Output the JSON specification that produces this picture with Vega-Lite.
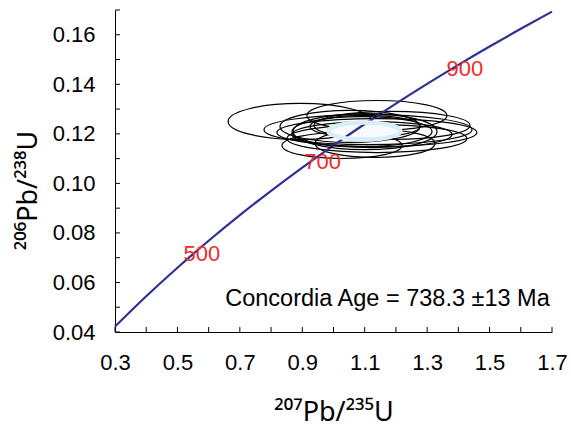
{
  "$schema": "https://vega.github.io/schema/vega-lite/v6.json",
  "width": 437,
  "height": 322,
  "autosize": "none",
  "padding": {"left": 115, "top": 10, "right": 19, "bottom": 100},
  "background": "white",
  "view": {"stroke": null},
  "config": {
    "font": "Liberation Sans",
    "axis": {
      "grid": false,
      "domainColor": "black",
      "domainWidth": 1,
      "ticks": false,
      "tickSize": 0,
      "labelFont": "Liberation Sans",
      "labelFontSize": 22,
      "labelColor": "black",
      "titleFont": "Noto Sans",
      "titleFontSize": 27,
      "titleFontWeight": "normal",
      "titleColor": "black",
      "labelFlush": false,
      "labelBound": false,
      "labelOverlap": false
    }
  },
  "datasets": {
    "curve": [
      {"x": 0.3, "y": 0.04219},
      {"x": 0.4, "y": 0.05443},
      {"x": 0.5, "y": 0.06595},
      {"x": 0.6, "y": 0.07684},
      {"x": 0.7, "y": 0.08717},
      {"x": 0.8, "y": 0.09700},
      {"x": 0.9, "y": 0.10639},
      {"x": 1.0, "y": 0.11536},
      {"x": 1.1, "y": 0.12397},
      {"x": 1.2, "y": 0.13223},
      {"x": 1.3, "y": 0.14018},
      {"x": 1.4, "y": 0.14786},
      {"x": 1.5, "y": 0.15526},
      {"x": 1.6, "y": 0.16242},
      {"x": 1.7, "y": 0.16935}
    ],
    "xticks": [
      {"x": 0.3}, {"x": 0.4}, {"x": 0.5}, {"x": 0.6}, {"x": 0.7}, {"x": 0.8}, {"x": 0.9}, {"x": 1.0},
      {"x": 1.1}, {"x": 1.2}, {"x": 1.3}, {"x": 1.4}, {"x": 1.5}, {"x": 1.6}, {"x": 1.7}
    ],
    "yticks": [
      {"y": 0.04}, {"y": 0.05}, {"y": 0.06}, {"y": 0.07}, {"y": 0.08}, {"y": 0.09}, {"y": 0.10},
      {"y": 0.11}, {"y": 0.12}, {"y": 0.13}, {"y": 0.14}, {"y": 0.15}, {"y": 0.16}, {"y": 0.17}
    ],
    "ellipses": [
      {"id": "e1", "x": 0.893, "y": 0.1250},
      {"id": "e2", "x": 1.139, "y": 0.1274},
      {"id": "e3", "x": 1.1105, "y": 0.1217},
      {"id": "e4", "x": 1.0273, "y": 0.1153},
      {"id": "e5", "x": 1.139, "y": 0.1205},
      {"id": "e6", "x": 1.139, "y": 0.1181},
      {"id": "e7", "x": 1.0529, "y": 0.1230},
      {"id": "e8", "x": 1.1009, "y": 0.1230},
      {"id": "e9", "x": 1.1233, "y": 0.1197},
      {"id": "e10", "x": 1.1329, "y": 0.1161},
      {"id": "e11", "x": 1.1874, "y": 0.1234}
    ],
    "inner": [
      {"id": "t1", "x": 1.1009, "y": 0.1209},
      {"id": "t2", "x": 1.0913, "y": 0.1209}
    ],
    "age": [
      {"x": 1.099, "y": 0.1211}
    ],
    "ages": [
      {"label": "500", "x": 0.578, "y": 0.0714},
      {"label": "700", "x": 0.965, "y": 0.1087},
      {"label": "900", "x": 1.421, "y": 0.1461}
    ],
    "note": [
      {"label": "Concordia Age = 738.3 ±13 Ma", "x": 1.173, "y": 0.0533}
    ]
  },
  "layer": [
    {
      "data": {"name": "ellipses"},
      "mark": {"type": "point", "filled": false, "stroke": "black", "strokeWidth": 1.2, "size": 4, "opacity": 1},
      "encoding": {
        "x": {"field": "x", "type": "quantitative", "scale": {"domain": [0.3, 1.7], "nice": false, "zero": false},
          "axis": {
            "values": [0.3, 0.4, 0.5, 0.6, 0.7, 0.8, 0.9, 1.0, 1.1, 1.2, 1.3, 1.4, 1.5, 1.6, 1.7],
            "labelExpr": "round(datum.value*10) % 2 == 1 ? format(datum.value, '.1f') : ''",
            "labelPadding": 20,
            "title": "²⁰⁷Pb/²³⁵U",
            "titlePadding": 26
          }},
        "y": {"field": "y", "type": "quantitative", "scale": {"domain": [0.04, 0.17], "nice": false, "zero": false},
          "axis": {
            "values": [0.04, 0.05, 0.06, 0.07, 0.08, 0.09, 0.1, 0.11, 0.12, 0.13, 0.14, 0.15, 0.16, 0.17],
            "labelExpr": "round(datum.value*100) % 2 == 0 ? format(datum.value, '.2f') : ''",
            "labelPadding": 20,
            "title": "²⁰⁶Pb/²³⁸U",
            "titlePadding": 10,
            "titleY": 180
          }},
        "shape": {"field": "id", "type": "nominal", "legend": null,
          "scale": {
            "domain": ["e1", "e2", "e3", "e4", "e5", "e6", "e7", "e8", "e9", "e10", "e11"],
            "range": [
              "M -72 0 A 72 18 0 1 0 72 0 A 72 18 0 1 0 -72 0 Z",
              "M -70 0 A 70 15 0 1 0 70 0 A 70 15 0 1 0 -70 0 Z",
              "M -104 0 A 104 15 0 1 0 104 0 A 104 15 0 1 0 -104 0 Z",
              "M -60 0 A 60 13 0 1 0 60 0 A 60 13 0 1 0 -60 0 Z",
              "M -100 0 A 100 14 0 1 0 100 0 A 100 14 0 1 0 -100 0 Z",
              "M -90 0 A 90 14 0 1 0 90 0 A 90 14 0 1 0 -90 0 Z",
              "M -70 0 A 70 16 0 1 0 70 0 A 70 16 0 1 0 -70 0 Z",
              "M -55 0 A 55 11 0 1 0 55 0 A 55 11 0 1 0 -55 0 Z",
              "M -80 0 A 80 13 0 1 0 80 0 A 80 13 0 1 0 -80 0 Z",
              "M -60 0 A 60 14 0 1 0 60 0 A 60 14 0 1 0 -60 0 Z",
              "M -78 0 A 78 14 0 1 0 78 0 A 78 14 0 1 0 -78 0 Z"
            ]
          }}
      }
    },
    {
      "data": {"name": "xticks"},
      "mark": {"type": "rule", "color": "black", "strokeWidth": 1},
      "encoding": {
        "x": {"field": "x", "type": "quantitative"},
        "y": {"datum": 0.04},
        "y2": {"datum": 0.042}
      }
    },
    {
      "data": {"name": "yticks"},
      "mark": {"type": "rule", "color": "black", "strokeWidth": 1},
      "encoding": {
        "y": {"field": "y", "type": "quantitative"},
        "x": {"datum": 0.3},
        "x2": {"datum": 0.316}
      }
    },
    {
      "data": {"name": "age"},
      "mark": {"type": "point", "filled": true, "fill": "#f7fbfe", "strokeWidth": 0, "size": 4, "opacity": 1, "shape": "M -36 0 A 36 8.5 0 1 0 36 0 A 36 8.5 0 1 0 -36 0 Z"},
      "encoding": {
        "x": {"field": "x", "type": "quantitative"},
        "y": {"field": "y", "type": "quantitative"}
      }
    },
    {
      "data": {"name": "curve"},
      "mark": {"type": "line", "color": "#2e3192", "strokeWidth": 2.2, "interpolate": "monotone"},
      "encoding": {
        "x": {"field": "x", "type": "quantitative"},
        "y": {"field": "y", "type": "quantitative"}
      }
    },
    {
      "data": {"name": "age"},
      "mark": {"type": "point", "filled": false, "stroke": "#d9edf8", "strokeWidth": 4.5, "size": 4, "opacity": 1, "shape": "M -36 0 A 36 8.5 0 1 0 36 0 A 36 8.5 0 1 0 -36 0 Z"},
      "encoding": {
        "x": {"field": "x", "type": "quantitative"},
        "y": {"field": "y", "type": "quantitative"}
      }
    },
    {
      "data": {"name": "inner"},
      "mark": {"type": "point", "filled": false, "stroke": "black", "strokeWidth": 1.2, "size": 4, "opacity": 1},
      "encoding": {
        "x": {"field": "x", "type": "quantitative"},
        "y": {"field": "y", "type": "quantitative"},
        "shape": {"field": "id", "type": "nominal", "legend": null,
          "scale": {
            "domain": ["t1", "t2"],
            "range": [
              "M -27.7 3.9 A 28 3 -8 1 0 27.7 -3.9 A 28 3 -8 1 0 -27.7 3.9 Z",
              "M -24.6 -4.3 A 25 3 10 1 0 24.6 4.3 A 25 3 10 1 0 -24.6 -4.3 Z"
            ]
          }}
      }
    },
    {
      "data": {"name": "ages"},
      "mark": {"type": "text", "color": "#ee2c2c", "fontSize": 22, "font": "Liberation Sans", "align": "center", "baseline": "middle"},
      "encoding": {
        "x": {"field": "x", "type": "quantitative"},
        "y": {"field": "y", "type": "quantitative"},
        "text": {"field": "label", "type": "nominal"}
      }
    },
    {
      "data": {"name": "note"},
      "mark": {"type": "text", "color": "black", "fontSize": 23.5, "font": "Liberation Sans", "align": "center", "baseline": "middle"},
      "encoding": {
        "x": {"field": "x", "type": "quantitative"},
        "y": {"field": "y", "type": "quantitative"},
        "text": {"field": "label", "type": "nominal"}
      }
    }
  ]
}
